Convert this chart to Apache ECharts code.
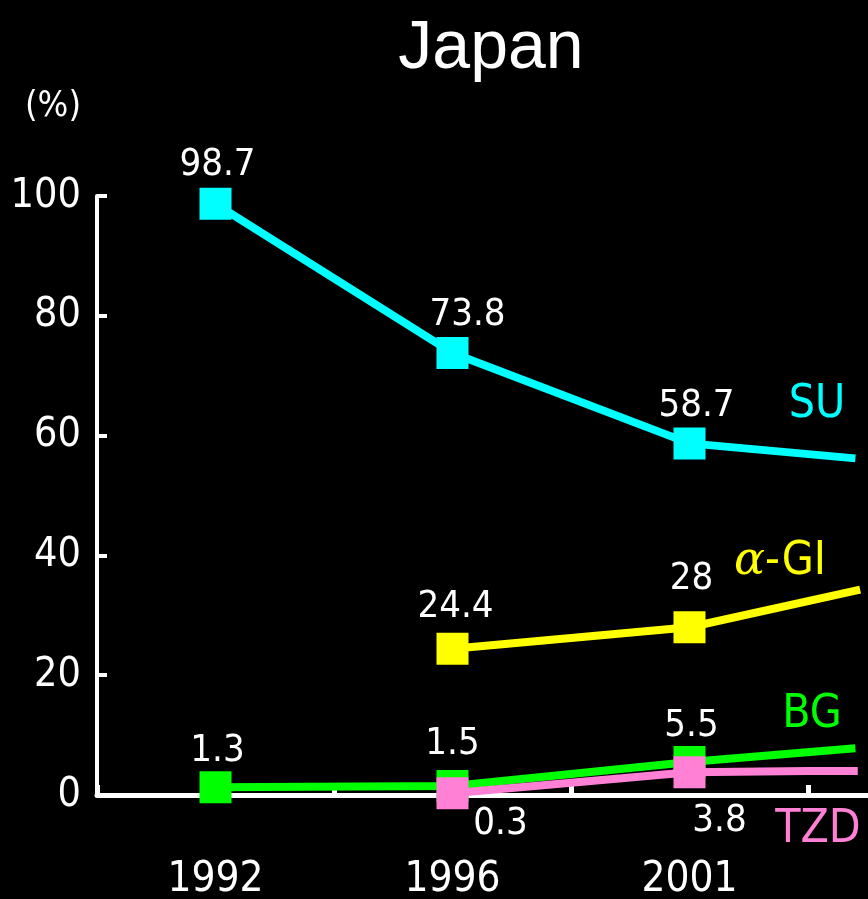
<!DOCTYPE html>
<html>
<head>
<meta charset="utf-8">
<script src="https://cdn.jsdelivr.net/npm/echarts@6/dist/echarts.min.js"></script>
<style>
html,body{margin:0;padding:0;background:#000;}
#c{width:868px;height:899px;}
</style>
</head>
<body>
<div id="c"></div>
<script>
// ---- data ----
const years = ['1992', '1996', '2001'];
const yTicks = [0, 20, 40, 60, 80, 100];
const seriesNames = ['SU', 'α-GI', 'BG', 'TZD'];
const suValues = [98.7, 73.8, 58.7];
const agiValues = [null, 24.4, 28];
const bgValues = [1.3, 1.5, 5.5];
const tzdValues = [null, 0.3, 3.8];
// trailing line segments beyond 2001 (x in category units, value)
const suTail = [[3.2, 56.2]];
const agiTail = [[3.22, 34.3]];
const bgTail = [[3.2, 7.8]];
const tzdTail = [[3.0, 4.0], [3.21, 4.0]];

// ---- styling ----
const NARROW = '"Liberation Sans Narrow", "DejaVu Sans Condensed", "Roboto Condensed", "Liberation Sans", sans-serif';
const colors = ['#00FFFF', '#FFFF00', '#00FF00', '#FF80D4'];
const labelOffsets = [
  [[2, -39], [15, -38], [7, -37]],
  [null, [3, -42], [2, -48]],
  [[2, -36], [0, -42], [2, -36]],
  [null, [48, 31], [30, 49]]
];
const namePositions = [[817, 405], [780, 562], [812, 715], [818, 830]];
const allValues = [suValues, agiValues, bgValues, tzdValues];
const allTails = [suTail, agiTail, bgTail, tzdTail];

function buildData(si) {
  const out = [];
  allValues[si].forEach((v, i) => {
    if (v == null) return;
    out.push({
      value: [i + 0.5, v],
      label: { show: true, offset: labelOffsets[si][i] }
    });
  });
  allTails[si].forEach(p => {
    out.push({ value: p, symbol: 'none', label: { show: false } });
  });
  return out;
}

const series = seriesNames.map((name, si) => ({
  name: name,
  type: 'line',
  xAxisIndex: 0,
  data: buildData(si),
  symbol: 'rect',
  symbolSize: 32,
  lineStyle: { color: colors[si], width: 8 },
  itemStyle: { color: colors[si] },
  label: {
    position: 'inside',
    color: '#fff',
    fontFamily: NARROW,
    fontSize: 38,
    align: 'center',
    verticalAlign: 'middle',
    formatter: p => String(p.value[1])
  },
  emphasis: { disabled: true },
  animation: false,
  z: 2 + si
}));

const nameGraphics = seriesNames.map((n, si) => ({
  type: 'text', x: namePositions[si][0], y: namePositions[si][1],
  style: {
    text: n.replace('α', '{a|α}'),
    fill: colors[si], font: '46px ' + NARROW, align: 'center', verticalAlign: 'middle',
    rich: { a: { fontStyle: 'italic', fontFamily: '"DejaVu Serif", serif', fontSize: 46, fill: colors[si] } }
  }
}));

const chart = echarts.init(document.getElementById('c'), null, { renderer: 'canvas' });
const gridWidth = 868 + 12 - 97;
const span = gridWidth / 237;
chart.setOption({
  backgroundColor: '#000',
  animation: false,
  grid: { left: 97, width: gridWidth, top: 196, bottom: 104, containLabel: false, outerBoundsMode: 'none' },
  xAxis: [
    {
      type: 'value', min: 0, max: span, interval: 0.5, position: 'bottom',
      axisLine: { show: true, onZero: false, lineStyle: { color: '#fff', width: 5 } },
      axisTick: { show: false },
      splitLine: { show: false },
      axisLabel: {
        show: true, margin: 64, color: '#fff', fontFamily: NARROW, fontSize: 42,
        showMaxLabel: false, showMinLabel: false,
        formatter: v => {
          const i = v - 0.5;
          const r = Math.round(i);
          return (Math.abs(i - r) < 1e-6 && years[r]) ? years[r] : '';
        }
      }
    },
    {
      type: 'value', min: 0, max: span, interval: 1, position: 'bottom',
      axisLine: { show: false },
      axisTick: { show: true, inside: true, length: 10, lineStyle: { color: '#fff', width: 5 } },
      axisLabel: { show: false },
      splitLine: { show: false }
    }
  ],
  yAxis: {
    type: 'value', min: yTicks[0], max: yTicks[yTicks.length - 1], interval: 20,
    axisLine: { show: true, lineStyle: { color: '#fff', width: 4 } },
    axisTick: { show: true, inside: true, length: 10, lineStyle: { color: '#fff', width: 4 } },
    splitLine: { show: false },
    axisLabel: { color: '#fff', fontFamily: NARROW, fontSize: 41, margin: 16 }
  },
  graphic: [
    { type: 'text', x: 491, y: 49, style: { text: 'Japan', fill: '#fff', font: '68px "Liberation Sans", Arial, sans-serif', align: 'center', verticalAlign: 'middle' } },
    { type: 'text', x: 53, y: 107, style: { text: '(%)', fill: '#fff', font: '36px ' + NARROW, align: 'center', verticalAlign: 'middle' } }
  ].concat(nameGraphics),
  series: series
});
</script>
</body>
</html>
